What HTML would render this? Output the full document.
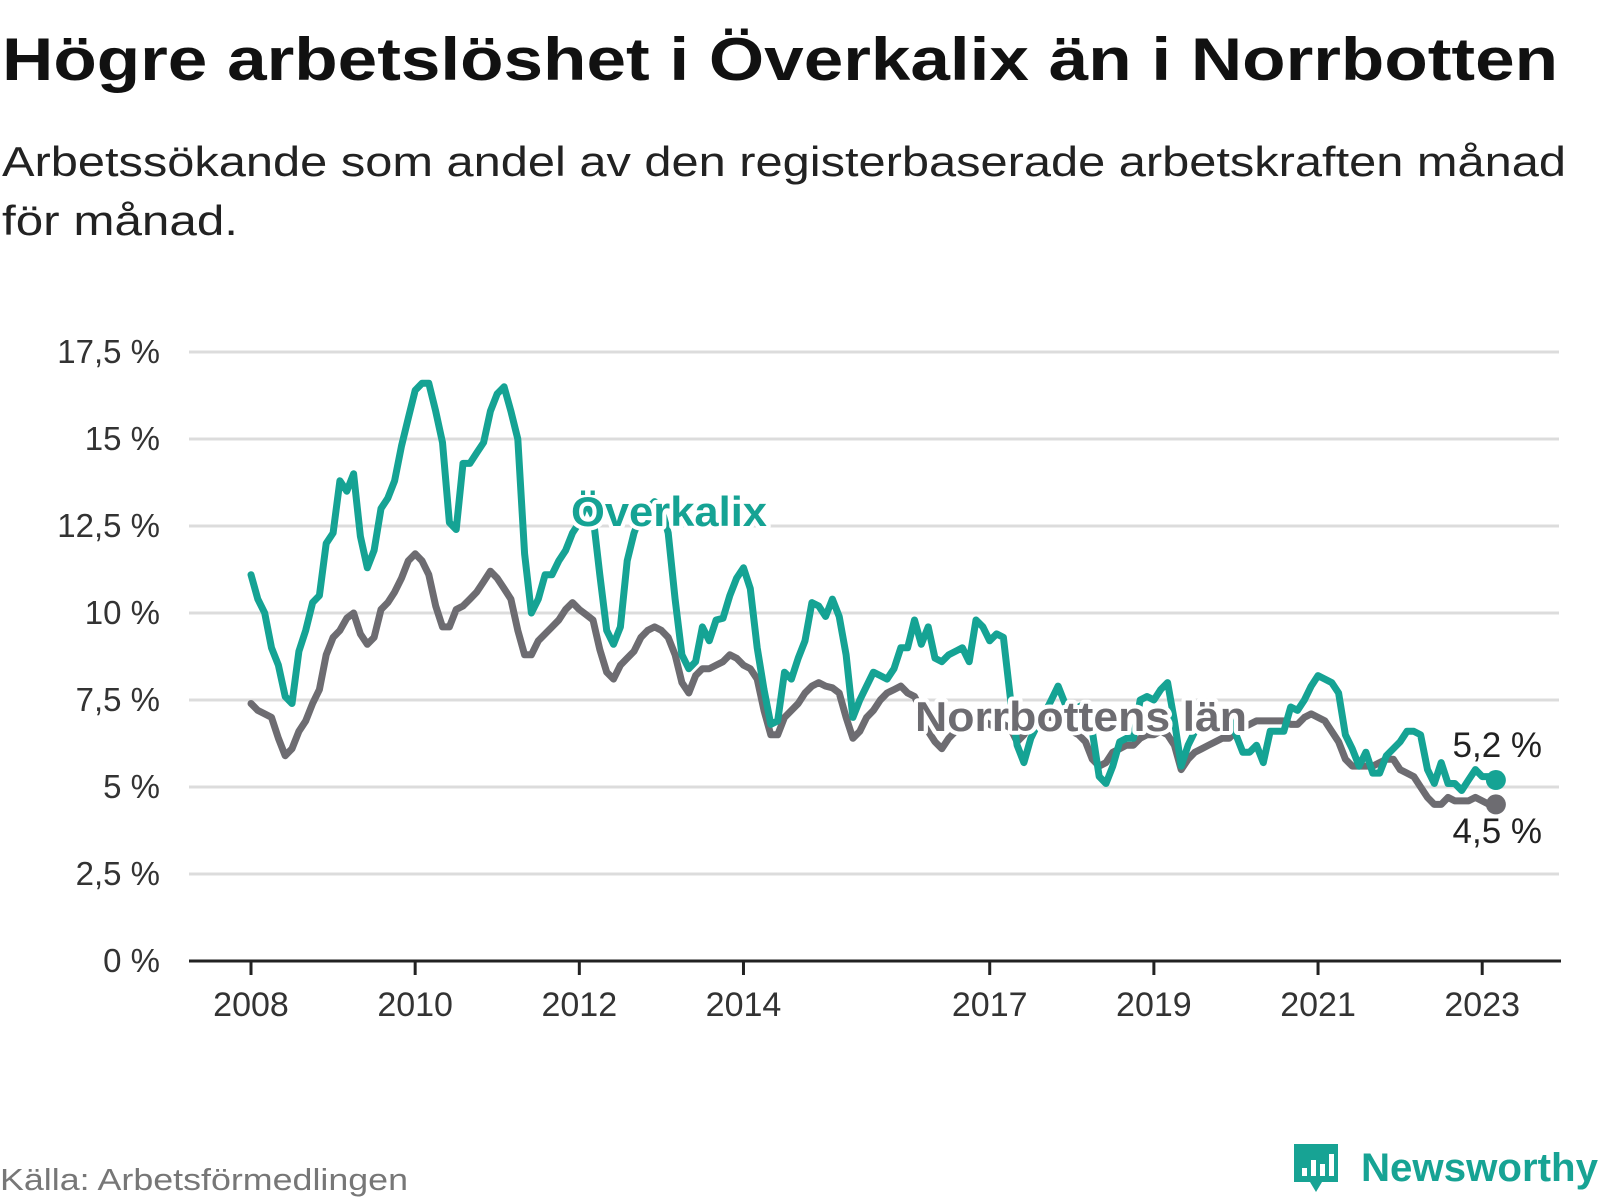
<!DOCTYPE html>
<html><head><meta charset="utf-8"><style>
html,body{margin:0;padding:0;background:#fff}
svg{display:block;font-family:"Liberation Sans",sans-serif}
</style></head><body>
<svg id="chart" width="1600" height="1200" viewBox="0 0 1600 1200">
<text x="2" y="80" font-size="60" font-weight="bold" fill="#111" textLength="1556" lengthAdjust="spacingAndGlyphs">Högre arbetslöshet i Överkalix än i Norrbotten</text>
<text x="2" y="176" font-size="42" fill="#222" textLength="1564" lengthAdjust="spacingAndGlyphs">Arbetssökande som andel av den registerbaserade arbetskraften månad</text>
<text x="2" y="235" font-size="42" fill="#222" textLength="236" lengthAdjust="spacingAndGlyphs">för månad.</text>
<g id="grid"></g>
<g id="yticks"></g>
<g id="xticks"></g>
<g id="lines"></g>
<g id="labels"></g>
<text x="0" y="1190" font-size="31" fill="#777" textLength="408" lengthAdjust="spacingAndGlyphs">Källa: Arbetsförmedlingen</text>
<g>
<path d="M1294 1144 h44 v38 h-16 l-6 10 l-6 -10 h-16 z" fill="#17a394"/>
<rect x="1302" y="1168" width="5" height="8" fill="#fff"/><rect x="1311" y="1160" width="5" height="16" fill="#fff"/><rect x="1320" y="1164" width="5" height="12" fill="#fff"/><rect x="1329" y="1154" width="5" height="22" fill="#fff"/>
<text x="1361" y="1181" font-size="40" font-weight="bold" fill="#17a394" textLength="237" lengthAdjust="spacingAndGlyphs">Newsworthy</text>
</g>
</svg>
<script>
const yTicks = [0, 2.5, 5, 7.5, 10, 12.5, 15, 17.5];
const yTickLabels = ["0 %", "2,5 %", "5 %", "7,5 %", "10 %", "12,5 %", "15 %", "17,5 %"];
const xTickYears = [2008, 2010, 2012, 2014, 2017, 2019, 2021, 2023];
const startYear = 2008;
const overkalix = [11.1,10.4,10.0,9.0,8.5,7.6,7.4,8.9,9.5,10.3,10.5,12.0,12.3,13.8,13.5,14.0,12.2,11.3,11.8,13.0,13.3,13.8,14.8,15.6,16.4,16.6,16.6,15.8,14.9,12.6,12.4,14.3,14.3,14.6,14.9,15.8,16.3,16.5,15.8,15.0,11.7,10.0,10.4,11.1,11.1,11.5,11.8,12.3,12.6,13.2,12.8,11.1,9.5,9.1,9.6,11.5,12.3,12.8,13.0,13.2,13.0,12.3,10.4,8.8,8.4,8.6,9.6,9.2,9.8,9.85,10.5,11.0,11.3,10.7,9.0,7.8,6.8,6.9,8.3,8.1,8.7,9.2,10.3,10.2,9.9,10.4,9.9,8.8,7.0,7.5,7.9,8.3,8.2,8.1,8.4,9.0,9.0,9.8,9.1,9.6,8.7,8.6,8.8,8.9,9.0,8.6,9.8,9.6,9.2,9.4,9.3,7.6,6.2,5.7,6.4,6.8,7.1,7.5,7.9,7.4,7.2,7.3,7.4,6.6,5.3,5.1,5.6,6.3,6.4,6.4,7.5,7.6,7.5,7.8,8.0,6.9,5.6,6.2,6.6,6.8,7.0,7.1,7.1,7.0,6.5,6.0,6.0,6.2,5.7,6.6,6.6,6.6,7.3,7.2,7.5,7.9,8.2,8.1,8.0,7.7,6.5,6.1,5.6,6.0,5.4,5.4,5.9,6.1,6.3,6.6,6.6,6.5,5.5,5.1,5.7,5.1,5.1,4.9,5.2,5.5,5.3,5.3,5.2];
const norrbotten = [7.4,7.2,7.1,7.0,6.4,5.9,6.1,6.6,6.9,7.4,7.8,8.8,9.3,9.5,9.85,10.0,9.4,9.1,9.3,10.1,10.3,10.6,11.0,11.5,11.7,11.5,11.1,10.2,9.6,9.6,10.1,10.2,10.4,10.6,10.9,11.2,11.0,10.7,10.4,9.5,8.8,8.8,9.2,9.4,9.6,9.8,10.1,10.3,10.1,9.95,9.8,8.95,8.3,8.1,8.5,8.7,8.9,9.3,9.5,9.6,9.5,9.3,8.8,8.0,7.7,8.2,8.4,8.4,8.5,8.6,8.8,8.7,8.5,8.4,8.1,7.2,6.5,6.5,7.0,7.2,7.4,7.7,7.9,8.0,7.9,7.85,7.7,7.0,6.4,6.6,7.0,7.2,7.5,7.7,7.8,7.9,7.7,7.6,7.2,6.6,6.3,6.1,6.4,6.6,6.7,6.8,6.8,6.9,6.8,6.7,6.8,6.7,6.3,6.5,6.8,6.9,7.0,7.0,6.9,6.8,6.6,6.5,6.3,5.8,5.6,5.7,6.0,6.1,6.2,6.2,6.4,6.5,6.5,6.6,6.5,6.2,5.5,5.8,6.0,6.1,6.2,6.3,6.4,6.4,6.6,6.7,6.8,6.9,6.9,6.9,6.9,6.9,6.8,6.8,7.0,7.1,7.0,6.9,6.6,6.3,5.8,5.6,5.6,5.6,5.6,5.7,5.8,5.8,5.5,5.4,5.3,5.0,4.7,4.5,4.5,4.7,4.6,4.6,4.6,4.7,4.6,4.5,4.5];
const endLabels = ["5,2 %", "4,5 %"];
const seriesNames = ["Överkalix", "Norrbottens län"];

const NS = "http://www.w3.org/2000/svg";
const X0 = 251, PXM = 6.84, Y0 = 961, PXV = 34.8;
function xScale(m){ return X0 + m * PXM; }
function yScale(v){ return Y0 - v * PXV; }
function mk(tag, attrs, parent){ const e = document.createElementNS(NS, tag); for (const k in attrs) e.setAttribute(k, attrs[k]); parent.appendChild(e); return e; }

const grid = document.getElementById('grid');
const yt = document.getElementById('yticks');
yTicks.forEach((v, i) => {
  if (v > 0) {
    const l = mk('line', {x1:189, x2:1559, y1:yScale(v), y2:yScale(v), stroke:'#dcdcdc', 'stroke-width':3}, grid);
    
    
  }
  const t = mk('text', {x:160, y:yScale(v)+11, 'text-anchor':'end', 'font-size':33, fill:'#333'}, yt);
  t.textContent = yTickLabels[i];
  
  
});
const xt = document.getElementById('xticks');
const ax = mk('line', {x1:189, x2:1561, y1:Y0, y2:Y0, stroke:'#222', 'stroke-width':3}, xt);


xTickYears.forEach(yr => {
  const x = xScale((yr - startYear) * 12);
  const tk = mk('line', {x1:x, x2:x, y1:Y0, y2:Y0+14, stroke:'#222', 'stroke-width':3}, xt);
  
  
  const t = mk('text', {x:x, y:1016, 'text-anchor':'middle', 'font-size':34, fill:'#333'}, xt);
  t.textContent = yr;
  
  
});

const lines = document.getElementById('lines');
function drawSeries(data, color, name){
  const d = data.map((v, i) => (i ? 'L' : 'M') + xScale(i).toFixed(1) + ' ' + yScale(v).toFixed(1)).join(' ');
  const p = mk('path', {d:d, fill:'none', stroke:color, 'stroke-width':7, 'stroke-linejoin':'round', 'stroke-linecap':'round'}, lines);
  
  
  const n = data.length - 1;
  const c = mk('circle', {cx:xScale(n), cy:yScale(data[n]), r:10, fill:color}, lines);
  
  
}
drawSeries(norrbotten, '#6d6c71', 'norrbotten');
drawSeries(overkalix, '#15a394', 'overkalix');

const lab = document.getElementById('labels');
function label(txt, x, y, color, name, size, bold, anchor, len){
  const extra = len ? {textLength:len, lengthAdjust:'spacingAndGlyphs'} : {};
  const h = mk('text', Object.assign({x:x, y:y, 'text-anchor':anchor, 'font-size':size, 'font-weight':bold?'bold':'normal', fill:'#fff', stroke:'#fff', 'stroke-width':8, 'stroke-linejoin':'round'}, extra), lab);
  h.textContent = txt;
  
  
  const t = mk('text', Object.assign({x:x, y:y, 'text-anchor':anchor, 'font-size':size, 'font-weight':bold?'bold':'normal', fill:color}, extra), lab);
  t.textContent = txt;
  
  
}
label(seriesNames[0], 669, 526, '#15a394', 'overkalix-label', 42, true, 'middle', 196);
label(seriesNames[1], 1081, 731, '#6d6c71', 'norrbotten-label', 42, true, 'middle', 332);
label(endLabels[0], 1542, 757, '#222', 'overkalix-end-value', 35, false, 'end');
label(endLabels[1], 1542, 843, '#222', 'norrbotten-end-value', 35, false, 'end');
</script>
</body></html>
